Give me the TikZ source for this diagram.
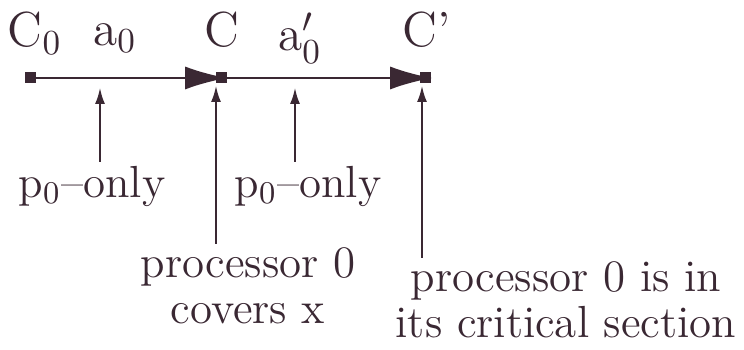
\documentclass[tikz,border=0pt]{standalone}
\usetikzlibrary{arrows.meta,positioning}
\definecolor{Ink}{HTML}{3A2833}

\begin{document}
\begin{tikzpicture}[node distance=2mm,
  dot/.style={rectangle, fill=Ink, inner sep=0pt, minimum size=1.1mm},
  lbl/.style={font=\fontsize{14}{16}\selectfont, text=Ink, inner sep=1pt},
  note/.style={font=\fontsize{12.8}{13}\selectfont, text=Ink, align=center, inner sep=1pt},
  step line/.style={draw=Ink, line width=0.65pt, -{Latex[length=4.2mm,width=2.3mm]}},
  tag/.style={draw=Ink, line width=0.5pt, -{Latex[length=1.6mm,width=1mm]}}]
  \useasboundingbox (0,0) rectangle (7.44,-3.5);
  % configurations on the time line
  \node[dot] (c0) at (0.31,-0.78) {};
  \node[dot] (c) at (2.21,-0.78) {};
  \node[dot] (c1) at (4.26,-0.78) {};
  \node[lbl] (lc0) at (0.35,-0.33) {C$_0$};
  \node[lbl] (lc) at (2.22,-0.30) {C};
  \node[lbl] (lc1) at (4.27,-0.30) {C'};
  \node[lbl] (la0) at (1.15,-0.38) {a$_0$};
  \node[lbl] (la1) at (3.00,-0.38) {a$'_0$};
  \draw[step line] (c0.center) -- (c.east);
  \draw[step line] (c.center) -- (c1.east);
  % where the arrows point
  \coordinate (t1) at (1.00,-0.88);
  \coordinate (t2) at (2.16,-0.86);
  \coordinate (t3) at (2.95,-0.88);
  \coordinate (t4) at (4.22,-0.86);
  \node[note] (p1) at (0.92,-1.86) {p$_0$--only};
  \node[note] (p2) at (3.08,-1.86) {p$_0$--only};
  \node[note] (cov) at (2.48,-2.86) {processor 0\\covers x};
  \node[note] (crit) at (5.66,-3.00) {processor 0 is in\\its critical section};
  \draw[tag] (t1 |- p1.north) -- (t1);
  \draw[tag] (t2 |- cov.north) -- (t2);
  \draw[tag] (t3 |- p2.north) -- (t3);
  \draw[tag] (t4 |- crit.north) -- (t4);
\end{tikzpicture}
\end{document}
